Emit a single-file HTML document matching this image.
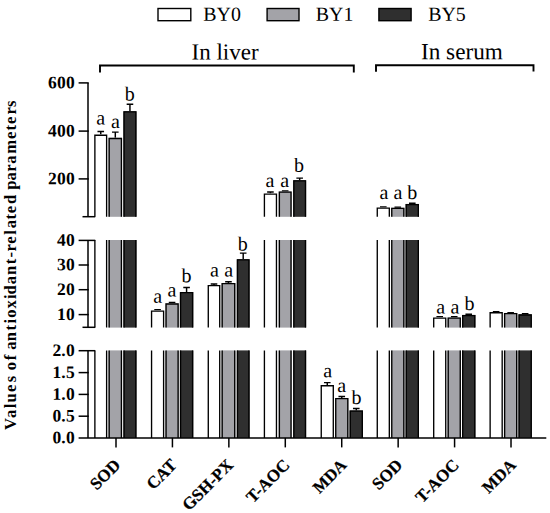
<!DOCTYPE html>
<html><head><meta charset="utf-8"><title>chart</title><style>html,body{margin:0;padding:0;background:#fff}body{width:550px;height:513px;overflow:hidden;font-family:"Liberation Serif",serif}</style></head><body>
<svg width="550" height="513" viewBox="0 0 550 513" style="display:block">
<rect width="550" height="513" fill="#fff"/>
<path d="M100.75 134.60V131.50M97.45 131.50H104.05" stroke="#000" stroke-width="1.45" fill="none"/>
<rect x="94.20" y="134.60" width="13.10" height="82.20" fill="#ffffff"/>
<path d="M94.88 216.80V135.28H106.62V216.80" fill="none" stroke="#000" stroke-width="1.35"/>
<rect x="94.20" y="240.00" width="13.10" height="87.60" fill="#ffffff"/>
<path d="M94.88 327.60V240.00M106.62 240.00V327.60" fill="none" stroke="#000" stroke-width="1.35"/>
<rect x="94.20" y="350.40" width="13.10" height="87.50" fill="#ffffff"/>
<path d="M94.88 437.90V350.40M106.62 350.40V437.90" fill="none" stroke="#000" stroke-width="1.35"/>
<path d="M115.30 137.80V132.10M112.00 132.10H118.60" stroke="#000" stroke-width="1.45" fill="none"/>
<rect x="108.50" y="137.80" width="13.60" height="79.00" fill="#a3a3a8"/>
<path d="M109.17 216.80V138.48H121.42V216.80" fill="none" stroke="#000" stroke-width="1.35"/>
<rect x="108.50" y="240.00" width="13.60" height="87.60" fill="#a3a3a8"/>
<path d="M109.17 327.60V240.00M121.42 240.00V327.60" fill="none" stroke="#000" stroke-width="1.35"/>
<rect x="108.50" y="350.40" width="13.60" height="87.50" fill="#a3a3a8"/>
<path d="M109.17 437.90V350.40M121.42 350.40V437.90" fill="none" stroke="#000" stroke-width="1.35"/>
<path d="M129.95 111.20V104.30M126.65 104.30H133.25" stroke="#000" stroke-width="1.45" fill="none"/>
<rect x="123.40" y="111.20" width="13.10" height="105.60" fill="#2f2f2f"/>
<path d="M124.08 216.80V111.88H135.82V216.80" fill="none" stroke="#000" stroke-width="1.35"/>
<rect x="123.40" y="240.00" width="13.10" height="87.60" fill="#2f2f2f"/>
<path d="M124.08 327.60V240.00M135.82 240.00V327.60" fill="none" stroke="#000" stroke-width="1.35"/>
<rect x="123.40" y="350.40" width="13.10" height="87.50" fill="#2f2f2f"/>
<path d="M124.08 437.90V350.40M135.82 350.40V437.90" fill="none" stroke="#000" stroke-width="1.35"/>
<text transform="rotate(0.03 100.8 124.4)" x="100.8" y="124.4" font-family="Liberation Serif, serif" font-size="20" text-anchor="middle" fill="#000">a</text>
<text transform="rotate(0.03 115.5 127.9)" x="115.5" y="127.9" font-family="Liberation Serif, serif" font-size="20" text-anchor="middle" fill="#000">a</text>
<text transform="rotate(0.03 129.7 100.5)" x="129.7" y="100.5" font-family="Liberation Serif, serif" font-size="20" text-anchor="middle" fill="#000">b</text>
<path d="M157.58 310.40V309.80M154.28 309.80H160.88" stroke="#000" stroke-width="1.45" fill="none"/>
<rect x="150.88" y="310.40" width="13.40" height="17.20" fill="#ffffff"/>
<path d="M151.56 327.60V311.07H163.60V327.60" fill="none" stroke="#000" stroke-width="1.35"/>
<rect x="150.88" y="350.40" width="13.40" height="87.50" fill="#ffffff"/>
<path d="M151.56 437.90V350.40M163.60 350.40V437.90" fill="none" stroke="#000" stroke-width="1.35"/>
<path d="M172.08 303.30V302.50M168.78 302.50H175.38" stroke="#000" stroke-width="1.45" fill="none"/>
<rect x="165.38" y="303.30" width="13.40" height="24.30" fill="#a3a3a8"/>
<path d="M166.06 327.60V303.98H178.10V327.60" fill="none" stroke="#000" stroke-width="1.35"/>
<rect x="165.38" y="350.40" width="13.40" height="87.50" fill="#a3a3a8"/>
<path d="M166.06 437.90V350.40M178.10 350.40V437.90" fill="none" stroke="#000" stroke-width="1.35"/>
<path d="M186.58 292.00V287.50M183.28 287.50H189.88" stroke="#000" stroke-width="1.45" fill="none"/>
<rect x="179.88" y="292.00" width="13.40" height="35.60" fill="#2f2f2f"/>
<path d="M180.56 327.60V292.68H192.60V327.60" fill="none" stroke="#000" stroke-width="1.35"/>
<rect x="179.88" y="350.40" width="13.40" height="87.50" fill="#2f2f2f"/>
<path d="M180.56 437.90V350.40M192.60 350.40V437.90" fill="none" stroke="#000" stroke-width="1.35"/>
<text transform="rotate(0.03 157.7 302.8)" x="157.7" y="302.8" font-family="Liberation Serif, serif" font-size="20" text-anchor="middle" fill="#000">a</text>
<text transform="rotate(0.03 172.0 296.5)" x="172.0" y="296.5" font-family="Liberation Serif, serif" font-size="20" text-anchor="middle" fill="#000">a</text>
<text transform="rotate(0.03 186.5 282.3)" x="186.5" y="282.3" font-family="Liberation Serif, serif" font-size="20" text-anchor="middle" fill="#000">b</text>
<path d="M214.00 285.00V283.90M210.70 283.90H217.30" stroke="#000" stroke-width="1.45" fill="none"/>
<rect x="207.60" y="285.00" width="12.80" height="42.60" fill="#ffffff"/>
<path d="M208.28 327.60V285.68H219.72V327.60" fill="none" stroke="#000" stroke-width="1.35"/>
<rect x="207.60" y="350.40" width="12.80" height="87.50" fill="#ffffff"/>
<path d="M208.28 437.90V350.40M219.72 350.40V437.90" fill="none" stroke="#000" stroke-width="1.35"/>
<path d="M228.45 283.00V281.65M225.15 281.65H231.75" stroke="#000" stroke-width="1.45" fill="none"/>
<rect x="221.50" y="283.00" width="13.90" height="44.60" fill="#a3a3a8"/>
<path d="M222.18 327.60V283.68H234.72V327.60" fill="none" stroke="#000" stroke-width="1.35"/>
<rect x="221.50" y="350.40" width="13.90" height="87.50" fill="#a3a3a8"/>
<path d="M222.18 437.90V350.40M234.72 350.40V437.90" fill="none" stroke="#000" stroke-width="1.35"/>
<path d="M243.20 259.15V253.10M239.90 253.10H246.50" stroke="#000" stroke-width="1.45" fill="none"/>
<rect x="236.80" y="259.15" width="12.80" height="68.45" fill="#2f2f2f"/>
<path d="M237.48 327.60V259.82H248.92V327.60" fill="none" stroke="#000" stroke-width="1.35"/>
<rect x="236.80" y="350.40" width="12.80" height="87.50" fill="#2f2f2f"/>
<path d="M237.48 437.90V350.40M248.92 350.40V437.90" fill="none" stroke="#000" stroke-width="1.35"/>
<text transform="rotate(0.03 214.5 276.5)" x="214.5" y="276.5" font-family="Liberation Serif, serif" font-size="20" text-anchor="middle" fill="#000">a</text>
<text transform="rotate(0.03 228.8 276.5)" x="228.8" y="276.5" font-family="Liberation Serif, serif" font-size="20" text-anchor="middle" fill="#000">a</text>
<text transform="rotate(0.03 242.7 250.4)" x="242.7" y="250.4" font-family="Liberation Serif, serif" font-size="20" text-anchor="middle" fill="#000">b</text>
<path d="M270.44 193.45V192.05M267.14 192.05H273.74" stroke="#000" stroke-width="1.45" fill="none"/>
<rect x="263.74" y="193.45" width="13.40" height="23.35" fill="#ffffff"/>
<path d="M264.41 216.80V194.12H276.46V216.80" fill="none" stroke="#000" stroke-width="1.35"/>
<rect x="263.74" y="240.00" width="13.40" height="87.60" fill="#ffffff"/>
<path d="M264.41 327.60V240.00M276.46 240.00V327.60" fill="none" stroke="#000" stroke-width="1.35"/>
<rect x="263.74" y="350.40" width="13.40" height="87.50" fill="#ffffff"/>
<path d="M264.41 437.90V350.40M276.46 350.40V437.90" fill="none" stroke="#000" stroke-width="1.35"/>
<path d="M285.20 191.40V191.00M281.90 191.00H288.50" stroke="#000" stroke-width="1.45" fill="none"/>
<rect x="278.70" y="191.40" width="13.00" height="25.40" fill="#a3a3a8"/>
<path d="M279.38 216.80V192.08H291.02V216.80" fill="none" stroke="#000" stroke-width="1.35"/>
<rect x="278.70" y="240.00" width="13.00" height="87.60" fill="#a3a3a8"/>
<path d="M279.38 327.60V240.00M291.02 240.00V327.60" fill="none" stroke="#000" stroke-width="1.35"/>
<rect x="278.70" y="350.40" width="13.00" height="87.50" fill="#a3a3a8"/>
<path d="M279.38 437.90V350.40M291.02 350.40V437.90" fill="none" stroke="#000" stroke-width="1.35"/>
<path d="M299.67 180.20V178.10M296.37 178.10H302.97" stroke="#000" stroke-width="1.45" fill="none"/>
<rect x="293.20" y="180.20" width="12.95" height="36.60" fill="#2f2f2f"/>
<path d="M293.88 216.80V180.88H305.47V216.80" fill="none" stroke="#000" stroke-width="1.35"/>
<rect x="293.20" y="240.00" width="12.95" height="87.60" fill="#2f2f2f"/>
<path d="M293.88 327.60V240.00M305.47 240.00V327.60" fill="none" stroke="#000" stroke-width="1.35"/>
<rect x="293.20" y="350.40" width="12.95" height="87.50" fill="#2f2f2f"/>
<path d="M293.88 437.90V350.40M305.47 350.40V437.90" fill="none" stroke="#000" stroke-width="1.35"/>
<text transform="rotate(0.03 270.0 186.9)" x="270.0" y="186.9" font-family="Liberation Serif, serif" font-size="20" text-anchor="middle" fill="#000">a</text>
<text transform="rotate(0.03 284.8 186.9)" x="284.8" y="186.9" font-family="Liberation Serif, serif" font-size="20" text-anchor="middle" fill="#000">a</text>
<text transform="rotate(0.03 299.0 171.7)" x="299.0" y="171.7" font-family="Liberation Serif, serif" font-size="20" text-anchor="middle" fill="#000">b</text>
<path d="M327.27 385.10V382.60M323.97 382.60H330.57" stroke="#000" stroke-width="1.45" fill="none"/>
<rect x="320.57" y="385.10" width="13.40" height="52.80" fill="#ffffff"/>
<path d="M321.25 437.90V385.78H333.29V437.90" fill="none" stroke="#000" stroke-width="1.35"/>
<path d="M341.77 398.00V396.50M338.47 396.50H345.07" stroke="#000" stroke-width="1.45" fill="none"/>
<rect x="335.07" y="398.00" width="13.40" height="39.90" fill="#a3a3a8"/>
<path d="M335.75 437.90V398.68H347.79V437.90" fill="none" stroke="#000" stroke-width="1.35"/>
<path d="M356.27 410.40V408.40M352.97 408.40H359.57" stroke="#000" stroke-width="1.45" fill="none"/>
<rect x="349.57" y="410.40" width="13.40" height="27.50" fill="#2f2f2f"/>
<path d="M350.25 437.90V411.07H362.29V437.90" fill="none" stroke="#000" stroke-width="1.35"/>
<text transform="rotate(0.03 327.8 377.2)" x="327.8" y="377.2" font-family="Liberation Serif, serif" font-size="20" text-anchor="middle" fill="#000">a</text>
<text transform="rotate(0.03 341.8 392.1)" x="341.8" y="392.1" font-family="Liberation Serif, serif" font-size="20" text-anchor="middle" fill="#000">a</text>
<text transform="rotate(0.03 356.6 404.1)" x="356.6" y="404.1" font-family="Liberation Serif, serif" font-size="20" text-anchor="middle" fill="#000">b</text>
<path d="M383.30 207.50V206.90M380.00 206.90H386.60" stroke="#000" stroke-width="1.45" fill="none"/>
<rect x="376.60" y="207.50" width="13.40" height="9.30" fill="#ffffff"/>
<path d="M377.27 216.80V208.18H389.32V216.80" fill="none" stroke="#000" stroke-width="1.35"/>
<rect x="376.60" y="240.00" width="13.40" height="87.60" fill="#ffffff"/>
<path d="M377.27 327.60V240.00M389.32 240.00V327.60" fill="none" stroke="#000" stroke-width="1.35"/>
<rect x="376.60" y="350.40" width="13.40" height="87.50" fill="#ffffff"/>
<path d="M377.27 437.90V350.40M389.32 350.40V437.90" fill="none" stroke="#000" stroke-width="1.35"/>
<path d="M397.80 207.70V207.30M394.50 207.30H401.10" stroke="#000" stroke-width="1.45" fill="none"/>
<rect x="391.10" y="207.70" width="13.40" height="9.10" fill="#a3a3a8"/>
<path d="M391.77 216.80V208.38H403.82V216.80" fill="none" stroke="#000" stroke-width="1.35"/>
<rect x="391.10" y="240.00" width="13.40" height="87.60" fill="#a3a3a8"/>
<path d="M391.77 327.60V240.00M403.82 240.00V327.60" fill="none" stroke="#000" stroke-width="1.35"/>
<rect x="391.10" y="350.40" width="13.40" height="87.50" fill="#a3a3a8"/>
<path d="M391.77 437.90V350.40M403.82 350.40V437.90" fill="none" stroke="#000" stroke-width="1.35"/>
<path d="M412.30 203.95V203.30M409.00 203.30H415.60" stroke="#000" stroke-width="1.45" fill="none"/>
<rect x="405.60" y="203.95" width="13.40" height="12.85" fill="#2f2f2f"/>
<path d="M406.27 216.80V204.62H418.32V216.80" fill="none" stroke="#000" stroke-width="1.35"/>
<rect x="405.60" y="240.00" width="13.40" height="87.60" fill="#2f2f2f"/>
<path d="M406.27 327.60V240.00M418.32 240.00V327.60" fill="none" stroke="#000" stroke-width="1.35"/>
<rect x="405.60" y="350.40" width="13.40" height="87.50" fill="#2f2f2f"/>
<path d="M406.27 437.90V350.40M418.32 350.40V437.90" fill="none" stroke="#000" stroke-width="1.35"/>
<text transform="rotate(0.03 383.9 198.9)" x="383.9" y="198.9" font-family="Liberation Serif, serif" font-size="20" text-anchor="middle" fill="#000">a</text>
<text transform="rotate(0.03 398.0 198.9)" x="398.0" y="198.9" font-family="Liberation Serif, serif" font-size="20" text-anchor="middle" fill="#000">a</text>
<text transform="rotate(0.03 412.2 198.9)" x="412.2" y="198.9" font-family="Liberation Serif, serif" font-size="20" text-anchor="middle" fill="#000">b</text>
<path d="M439.73 317.40V316.70M436.43 316.70H443.03" stroke="#000" stroke-width="1.45" fill="none"/>
<rect x="433.03" y="317.40" width="13.40" height="10.20" fill="#ffffff"/>
<path d="M433.70 327.60V318.07H445.75V327.60" fill="none" stroke="#000" stroke-width="1.35"/>
<rect x="433.03" y="350.40" width="13.40" height="87.50" fill="#ffffff"/>
<path d="M433.70 437.90V350.40M445.75 350.40V437.90" fill="none" stroke="#000" stroke-width="1.35"/>
<path d="M454.23 317.40V316.80M450.93 316.80H457.53" stroke="#000" stroke-width="1.45" fill="none"/>
<rect x="447.53" y="317.40" width="13.40" height="10.20" fill="#a3a3a8"/>
<path d="M448.20 327.60V318.07H460.25V327.60" fill="none" stroke="#000" stroke-width="1.35"/>
<rect x="447.53" y="350.40" width="13.40" height="87.50" fill="#a3a3a8"/>
<path d="M448.20 437.90V350.40M460.25 350.40V437.90" fill="none" stroke="#000" stroke-width="1.35"/>
<path d="M468.73 314.90V314.20M465.43 314.20H472.03" stroke="#000" stroke-width="1.45" fill="none"/>
<rect x="462.03" y="314.90" width="13.40" height="12.70" fill="#2f2f2f"/>
<path d="M462.70 327.60V315.57H474.75V327.60" fill="none" stroke="#000" stroke-width="1.35"/>
<rect x="462.03" y="350.40" width="13.40" height="87.50" fill="#2f2f2f"/>
<path d="M462.70 437.90V350.40M474.75 350.40V437.90" fill="none" stroke="#000" stroke-width="1.35"/>
<text transform="rotate(0.03 440.6 313.6)" x="440.6" y="313.6" font-family="Liberation Serif, serif" font-size="20" text-anchor="middle" fill="#000">a</text>
<text transform="rotate(0.03 454.9 313.6)" x="454.9" y="313.6" font-family="Liberation Serif, serif" font-size="20" text-anchor="middle" fill="#000">a</text>
<text transform="rotate(0.03 469.4 310.0)" x="469.4" y="310.0" font-family="Liberation Serif, serif" font-size="20" text-anchor="middle" fill="#000">b</text>
<path d="M496.16 312.05V311.60M492.86 311.60H499.46" stroke="#000" stroke-width="1.45" fill="none"/>
<rect x="489.46" y="312.05" width="13.40" height="15.55" fill="#ffffff"/>
<path d="M490.13 327.60V312.73H502.18V327.60" fill="none" stroke="#000" stroke-width="1.35"/>
<rect x="489.46" y="350.40" width="13.40" height="87.50" fill="#ffffff"/>
<path d="M490.13 437.90V350.40M502.18 350.40V437.90" fill="none" stroke="#000" stroke-width="1.35"/>
<path d="M510.66 312.95V312.80M507.36 312.80H513.96" stroke="#000" stroke-width="1.45" fill="none"/>
<rect x="503.96" y="312.95" width="13.40" height="14.65" fill="#a3a3a8"/>
<path d="M504.63 327.60V313.62H516.69V327.60" fill="none" stroke="#000" stroke-width="1.35"/>
<rect x="503.96" y="350.40" width="13.40" height="87.50" fill="#a3a3a8"/>
<path d="M504.63 437.90V350.40M516.69 350.40V437.90" fill="none" stroke="#000" stroke-width="1.35"/>
<path d="M525.16 314.30V313.70M521.86 313.70H528.46" stroke="#000" stroke-width="1.45" fill="none"/>
<rect x="518.46" y="314.30" width="13.40" height="13.30" fill="#2f2f2f"/>
<path d="M519.13 327.60V314.98H531.19V327.60" fill="none" stroke="#000" stroke-width="1.35"/>
<rect x="518.46" y="350.40" width="13.40" height="87.50" fill="#2f2f2f"/>
<path d="M519.13 437.90V350.40M531.19 350.40V437.90" fill="none" stroke="#000" stroke-width="1.35"/>
<path d="M88.0 82.9V216.7" stroke="#000" stroke-width="1.5" fill="none"/>
<path d="M78.6 82.9H88.75" stroke="#000" stroke-width="1.5" fill="none"/>
<path d="M78.6 131.1H88.75" stroke="#000" stroke-width="1.5" fill="none"/>
<path d="M78.6 178.9H88.75" stroke="#000" stroke-width="1.5" fill="none"/>
<path d="M82.5 216.7H95.2" stroke="#000" stroke-width="1.5" fill="none"/>
<path d="M88.0 240.4V327.3" stroke="#000" stroke-width="1.5" fill="none"/>
<path d="M78.6 240.4H95.2" stroke="#000" stroke-width="1.5" fill="none"/>
<path d="M78.6 265.0H88.75" stroke="#000" stroke-width="1.5" fill="none"/>
<path d="M78.6 289.7H88.75" stroke="#000" stroke-width="1.5" fill="none"/>
<path d="M78.6 314.6H88.75" stroke="#000" stroke-width="1.5" fill="none"/>
<path d="M82.5 327.3H95.2" stroke="#000" stroke-width="1.5" fill="none"/>
<path d="M88.0 350.7V437.9" stroke="#000" stroke-width="1.5" fill="none"/>
<path d="M78.6 350.7H95.2" stroke="#000" stroke-width="1.5" fill="none"/>
<path d="M78.6 372.6H88.75" stroke="#000" stroke-width="1.5" fill="none"/>
<path d="M78.6 394.4H88.75" stroke="#000" stroke-width="1.5" fill="none"/>
<path d="M78.6 416.2H88.75" stroke="#000" stroke-width="1.5" fill="none"/>
<path d="M78.6 437.9H546.3" stroke="#000" stroke-width="1.5" fill="none"/>
<path d="M116.00 437.9V447.4" stroke="#000" stroke-width="1.5" fill="none"/>
<path d="M172.43 437.9V447.4" stroke="#000" stroke-width="1.5" fill="none"/>
<path d="M228.86 437.9V447.4" stroke="#000" stroke-width="1.5" fill="none"/>
<path d="M285.29 437.9V447.4" stroke="#000" stroke-width="1.5" fill="none"/>
<path d="M341.72 437.9V447.4" stroke="#000" stroke-width="1.5" fill="none"/>
<path d="M398.15 437.9V447.4" stroke="#000" stroke-width="1.5" fill="none"/>
<path d="M454.58 437.9V447.4" stroke="#000" stroke-width="1.5" fill="none"/>
<path d="M511.01 437.9V447.4" stroke="#000" stroke-width="1.5" fill="none"/>
<text transform="rotate(0.03 74.9 88.20)" x="74.9" y="88.20" font-family="Liberation Serif, serif" font-weight="bold" font-size="17.5" text-anchor="end" letter-spacing="0.2" fill="#000">600</text>
<text transform="rotate(0.03 74.9 136.40)" x="74.9" y="136.40" font-family="Liberation Serif, serif" font-weight="bold" font-size="17.5" text-anchor="end" letter-spacing="0.2" fill="#000">400</text>
<text transform="rotate(0.03 74.9 184.20)" x="74.9" y="184.20" font-family="Liberation Serif, serif" font-weight="bold" font-size="17.5" text-anchor="end" letter-spacing="0.2" fill="#000">200</text>
<text transform="rotate(0.03 74.9 245.70)" x="74.9" y="245.70" font-family="Liberation Serif, serif" font-weight="bold" font-size="17.5" text-anchor="end" letter-spacing="0.2" fill="#000">40</text>
<text transform="rotate(0.03 74.9 270.30)" x="74.9" y="270.30" font-family="Liberation Serif, serif" font-weight="bold" font-size="17.5" text-anchor="end" letter-spacing="0.2" fill="#000">30</text>
<text transform="rotate(0.03 74.9 295.00)" x="74.9" y="295.00" font-family="Liberation Serif, serif" font-weight="bold" font-size="17.5" text-anchor="end" letter-spacing="0.2" fill="#000">20</text>
<text transform="rotate(0.03 74.9 319.90)" x="74.9" y="319.90" font-family="Liberation Serif, serif" font-weight="bold" font-size="17.5" text-anchor="end" letter-spacing="0.2" fill="#000">10</text>
<text transform="rotate(0.03 74.9 356.00)" x="74.9" y="356.00" font-family="Liberation Serif, serif" font-weight="bold" font-size="17.5" text-anchor="end" letter-spacing="0.2" fill="#000">2.0</text>
<text transform="rotate(0.03 74.9 377.90)" x="74.9" y="377.90" font-family="Liberation Serif, serif" font-weight="bold" font-size="17.5" text-anchor="end" letter-spacing="0.2" fill="#000">1.5</text>
<text transform="rotate(0.03 74.9 399.70)" x="74.9" y="399.70" font-family="Liberation Serif, serif" font-weight="bold" font-size="17.5" text-anchor="end" letter-spacing="0.2" fill="#000">1.0</text>
<text transform="rotate(0.03 74.9 421.50)" x="74.9" y="421.50" font-family="Liberation Serif, serif" font-weight="bold" font-size="17.5" text-anchor="end" letter-spacing="0.2" fill="#000">0.5</text>
<text transform="rotate(0.03 74.9 443.20)" x="74.9" y="443.20" font-family="Liberation Serif, serif" font-weight="bold" font-size="17.5" text-anchor="end" letter-spacing="0.2" fill="#000">0.0</text>
<text transform="translate(16.3,0) rotate(-90)" x="-423.97 -413.82 -405.98 -397.91 -388.22 -379.06 -366.18 -357.37 -345.68 -336.53 -327.79 -321.25 -313.68 -304.44 -296.76 -289.77 -280.21 -270.33 -261.41 -254.65 -247.76 -240.17 -232.55 -224.21 -216.79 -209.47 -199.47 -185.10 -176.42 -168.17 -159.55 -146.72 -135.38 -127.61 -120.22 -110.87 -103.66" y="0" font-family="Liberation Serif, serif" font-weight="bold" font-size="16.6" text-anchor="middle" fill="#000">Valuesofantioxidant-relatedparameters</text>
<text transform="translate(121.4,466.1) rotate(-45)" font-family="Liberation Serif, serif" font-weight="bold" font-size="17" text-anchor="end" fill="#000" stroke="#000" stroke-width="0.25">SOD</text>
<text transform="translate(177.8,466.1) rotate(-45)" font-family="Liberation Serif, serif" font-weight="bold" font-size="17" text-anchor="end" fill="#000" stroke="#000" stroke-width="0.25">CAT</text>
<text transform="translate(234.3,466.1) rotate(-45)" font-family="Liberation Serif, serif" font-weight="bold" font-size="17" text-anchor="end" fill="#000" stroke="#000" stroke-width="0.25">GSH-PX</text>
<text transform="translate(290.7,466.1) rotate(-45)" font-family="Liberation Serif, serif" font-weight="bold" font-size="17" text-anchor="end" fill="#000" stroke="#000" stroke-width="0.25">T-AOC</text>
<text transform="translate(347.6,466.1) rotate(-45)" font-family="Liberation Serif, serif" font-weight="bold" font-size="16.6" text-anchor="end" fill="#000" stroke="#000" stroke-width="0.25">MDA</text>
<text transform="translate(403.5,466.1) rotate(-45)" font-family="Liberation Serif, serif" font-weight="bold" font-size="17" text-anchor="end" fill="#000" stroke="#000" stroke-width="0.25">SOD</text>
<text transform="translate(460.0,466.1) rotate(-45)" font-family="Liberation Serif, serif" font-weight="bold" font-size="17" text-anchor="end" fill="#000" stroke="#000" stroke-width="0.25">T-AOC</text>
<text transform="translate(516.9,466.1) rotate(-45)" font-family="Liberation Serif, serif" font-weight="bold" font-size="16.6" text-anchor="end" fill="#000" stroke="#000" stroke-width="0.25">MDA</text>
<rect x="158.00" y="8.5" width="32.80" height="12.2" fill="#ffffff" stroke="#000" stroke-width="1.4"/>
<text transform="rotate(0.03 203.3 20.8)" x="203.3" y="20.8" font-family="Liberation Serif, serif" font-size="19.9" fill="#000">BY0</text>
<rect x="267.10" y="8.5" width="31.90" height="12.2" fill="#a3a3a8" stroke="#000" stroke-width="1.4"/>
<text transform="rotate(0.03 315.8 20.8)" x="315.8" y="20.8" font-family="Liberation Serif, serif" font-size="19.9" fill="#000">BY1</text>
<rect x="378.90" y="8.5" width="32.20" height="12.2" fill="#2f2f2f" stroke="#000" stroke-width="1.4"/>
<text transform="rotate(0.03 428.2 20.8)" x="428.2" y="20.8" font-family="Liberation Serif, serif" font-size="19.9" fill="#000">BY5</text>
<path d="M100 72.5V65.5H353.8V72.5" stroke="#000" stroke-width="1.9" fill="none"/>
<path d="M376 71.8V65.2H533.5V71.6" stroke="#000" stroke-width="1.9" fill="none"/>
<text transform="rotate(0.03 191.5 59.5)" x="191.5" y="59.5" font-family="Liberation Serif, serif" font-size="23" fill="#000">In liver</text>
<text transform="rotate(0.03 421 59.2)" x="421" y="59.2" font-family="Liberation Serif, serif" font-size="23.2" fill="#000">In serum</text>
</svg>
</body></html>
